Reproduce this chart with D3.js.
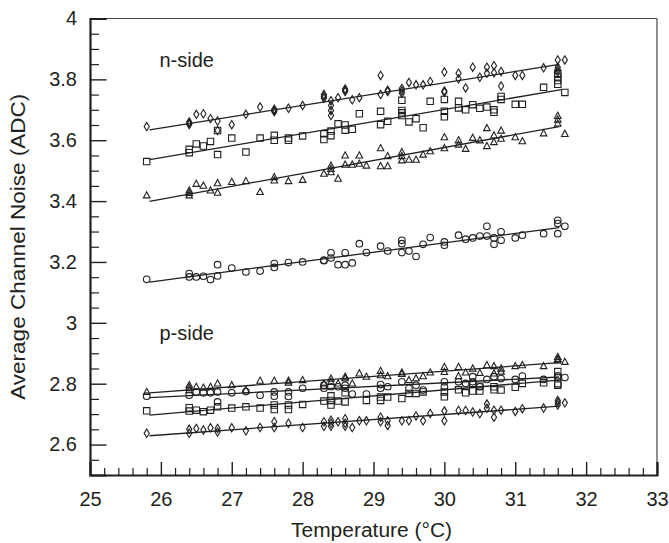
<!DOCTYPE html>
<html>
<head>
<meta charset="utf-8">
<script src="https://cdn.jsdelivr.net/npm/d3@7"></script>
<style>
  html, body { margin: 0; padding: 0; background: #fff; }
  svg { display: block; }
  text { font-family: "Liberation Sans", Arial, Helvetica, sans-serif; fill: #231f20; }
</style>
</head>
<body>
<svg id="chart" width="669" height="543"></svg>
<script>
// ---------------- data ----------------
const xTicks = [25, 26, 27, 28, 29, 30, 31, 32, 33];
const yTicks = [2.6, 2.8, 3.0, 3.2, 3.4, 3.6, 3.8, 4.0];
const yTickLabels = ["2.6", "2.8", "3", "3.2", "3.4", "3.6", "3.8", "4"];
const groupLabels = ["n-side", "p-side"];
const groupLabelPos = [[25.98, 3.84], [25.98, 2.945]];
const xTitle = "Temperature (\u00B0C)";
const yTitle = "Average Channel Noise (ADC)";

const nDiamond = [[25.8,3.645],[26.4,3.656],[26.4,3.652],[26.4,3.660],[26.5,3.685],[26.6,3.687],[26.7,3.671],[26.8,3.663],[26.8,3.632],[27.0,3.651],[27.2,3.685],[27.4,3.709],[27.6,3.698],[27.6,3.702],[27.6,3.694],[27.8,3.705],[28.0,3.714],[28.3,3.750],[28.3,3.744],[28.3,3.738],[28.4,3.730],[28.4,3.714],[28.4,3.698],[28.4,3.681],[28.5,3.740],[28.6,3.764],[28.6,3.760],[28.6,3.768],[28.7,3.733],[28.8,3.740],[29.1,3.813],[29.1,3.750],[29.2,3.764],[29.2,3.760],[29.4,3.770],[29.4,3.762],[29.4,3.754],[29.5,3.790],[29.6,3.782],[29.7,3.782],[29.8,3.793],[30.0,3.824],[30.0,3.758],[30.0,3.762],[30.2,3.820],[30.2,3.802],[30.3,3.772],[30.4,3.840],[30.5,3.807],[30.6,3.840],[30.6,3.820],[30.7,3.845],[30.7,3.822],[30.8,3.826],[30.8,3.778],[31.0,3.813],[31.1,3.813],[31.4,3.838],[31.6,3.864],[31.6,3.840],[31.6,3.832],[31.6,3.824],[31.7,3.864]];
const nSquare = [[25.8,3.530],[26.4,3.570],[26.4,3.559],[26.5,3.588],[26.6,3.581],[26.7,3.596],[26.8,3.632],[26.8,3.553],[27.0,3.607],[27.2,3.561],[27.4,3.607],[27.6,3.616],[27.6,3.600],[27.8,3.607],[27.8,3.600],[28.0,3.614],[28.3,3.621],[28.3,3.602],[28.4,3.630],[28.4,3.615],[28.5,3.654],[28.6,3.650],[28.6,3.633],[28.7,3.636],[28.8,3.687],[29.1,3.695],[29.1,3.651],[29.2,3.662],[29.4,3.731],[29.4,3.698],[29.4,3.690],[29.4,3.681],[29.5,3.660],[29.6,3.671],[29.7,3.641],[29.8,3.728],[30.0,3.734],[30.0,3.695],[30.0,3.677],[30.2,3.728],[30.2,3.706],[30.3,3.700],[30.4,3.717],[30.5,3.705],[30.6,3.709],[30.7,3.700],[30.7,3.692],[30.8,3.744],[30.8,3.734],[31.0,3.718],[31.1,3.718],[31.4,3.774],[31.6,3.820],[31.6,3.808],[31.6,3.796],[31.6,3.784],[31.7,3.757]];
const nTriangle = [[25.8,3.419],[26.4,3.435],[26.4,3.427],[26.4,3.419],[26.5,3.457],[26.6,3.451],[26.7,3.435],[26.8,3.459],[26.8,3.428],[27.0,3.463],[27.2,3.466],[27.4,3.430],[27.6,3.479],[27.6,3.468],[27.8,3.466],[28.0,3.470],[28.3,3.490],[28.4,3.517],[28.4,3.506],[28.4,3.495],[28.5,3.474],[28.6,3.550],[28.6,3.520],[28.7,3.520],[28.8,3.550],[28.8,3.523],[28.9,3.517],[29.1,3.574],[29.1,3.515],[29.2,3.548],[29.2,3.515],[29.4,3.561],[29.4,3.548],[29.4,3.534],[29.5,3.536],[29.6,3.536],[29.7,3.553],[29.8,3.564],[30.0,3.610],[30.0,3.574],[30.2,3.600],[30.2,3.586],[30.3,3.572],[30.4,3.608],[30.5,3.600],[30.6,3.640],[30.6,3.581],[30.7,3.616],[30.7,3.594],[30.8,3.632],[30.8,3.605],[31.0,3.610],[31.1,3.597],[31.4,3.623],[31.6,3.680],[31.6,3.668],[31.6,3.655],[31.7,3.621]];
const nCircle = [[25.8,3.143],[26.4,3.162],[26.4,3.151],[26.5,3.151],[26.6,3.153],[26.7,3.142],[26.8,3.191],[26.8,3.154],[27.0,3.180],[27.2,3.167],[27.4,3.170],[27.6,3.195],[27.6,3.182],[27.8,3.198],[28.0,3.200],[28.3,3.206],[28.3,3.204],[28.4,3.230],[28.4,3.213],[28.5,3.191],[28.6,3.230],[28.6,3.191],[28.7,3.197],[28.8,3.260],[28.9,3.231],[29.1,3.252],[29.2,3.236],[29.4,3.271],[29.4,3.260],[29.4,3.231],[29.5,3.236],[29.6,3.218],[29.7,3.258],[29.8,3.280],[30.0,3.266],[30.0,3.255],[30.2,3.288],[30.3,3.275],[30.4,3.279],[30.5,3.285],[30.6,3.317],[30.6,3.285],[30.7,3.279],[30.7,3.258],[30.8,3.299],[30.8,3.271],[31.0,3.279],[31.1,3.288],[31.4,3.293],[31.6,3.337],[31.6,3.326],[31.6,3.293],[31.7,3.317]];
const pTriangle = [[25.8,2.773],[26.4,2.795],[26.4,2.787],[26.4,2.779],[26.5,2.790],[26.6,2.787],[26.7,2.790],[26.8,2.801],[27.0,2.795],[27.2,2.779],[27.4,2.810],[27.6,2.810],[27.8,2.810],[27.8,2.804],[28.0,2.812],[28.3,2.801],[28.4,2.817],[28.4,2.806],[28.5,2.801],[28.6,2.823],[28.6,2.818],[28.7,2.801],[28.8,2.834],[28.9,2.823],[29.1,2.842],[29.1,2.828],[29.2,2.825],[29.4,2.837],[29.4,2.832],[29.5,2.812],[29.6,2.818],[29.7,2.825],[29.8,2.837],[30.0,2.855],[30.0,2.839],[30.2,2.855],[30.2,2.825],[30.3,2.837],[30.4,2.850],[30.5,2.836],[30.6,2.861],[30.7,2.858],[30.7,2.834],[30.8,2.850],[30.8,2.840],[31.0,2.858],[31.1,2.861],[31.4,2.858],[31.6,2.888],[31.6,2.882],[31.6,2.877],[31.7,2.872]];
const pCircle = [[25.8,2.759],[26.4,2.762],[26.5,2.773],[26.6,2.770],[26.7,2.770],[26.8,2.773],[26.8,2.740],[27.0,2.770],[27.2,2.774],[27.4,2.762],[27.6,2.773],[27.6,2.759],[27.8,2.773],[27.8,2.758],[28.0,2.785],[28.3,2.795],[28.3,2.785],[28.4,2.790],[28.5,2.790],[28.6,2.795],[28.6,2.785],[28.7,2.766],[28.9,2.766],[29.1,2.797],[29.1,2.785],[29.2,2.790],[29.4,2.806],[29.5,2.785],[29.6,2.795],[29.7,2.779],[30.0,2.806],[30.0,2.790],[30.2,2.806],[30.3,2.801],[30.4,2.823],[30.4,2.806],[30.5,2.790],[30.6,2.814],[30.7,2.823],[30.8,2.817],[31.0,2.814],[31.1,2.825],[31.4,2.814],[31.6,2.820],[31.6,2.826],[31.7,2.820]];
const pSquare = [[25.8,2.711],[26.4,2.721],[26.4,2.710],[26.5,2.713],[26.6,2.708],[26.7,2.713],[26.8,2.724],[27.0,2.720],[27.2,2.724],[27.4,2.720],[27.6,2.730],[27.6,2.715],[27.8,2.730],[27.8,2.715],[28.0,2.732],[28.3,2.743],[28.4,2.760],[28.4,2.745],[28.4,2.730],[28.5,2.743],[28.6,2.770],[28.6,2.740],[28.9,2.745],[29.1,2.756],[29.1,2.745],[29.2,2.756],[29.4,2.751],[29.5,2.768],[29.6,2.768],[29.7,2.773],[30.0,2.773],[30.0,2.757],[30.2,2.780],[30.3,2.770],[30.4,2.801],[30.4,2.776],[30.5,2.792],[30.5,2.776],[30.7,2.790],[30.7,2.780],[30.8,2.779],[31.0,2.788],[31.1,2.801],[31.4,2.803],[31.6,2.840],[31.6,2.820],[31.6,2.800],[31.6,2.795]];
const pDiamond = [[25.8,2.637],[26.4,2.650],[26.4,2.637],[26.5,2.653],[26.6,2.648],[26.7,2.655],[26.8,2.653],[26.8,2.641],[27.0,2.655],[27.2,2.645],[27.4,2.656],[27.6,2.675],[27.6,2.656],[27.8,2.670],[28.0,2.656],[28.3,2.675],[28.3,2.660],[28.4,2.680],[28.4,2.670],[28.4,2.660],[28.5,2.675],[28.6,2.685],[28.6,2.670],[28.6,2.660],[28.7,2.656],[28.8,2.678],[28.9,2.678],[29.1,2.690],[29.1,2.675],[29.2,2.678],[29.2,2.663],[29.4,2.678],[29.5,2.678],[29.6,2.694],[29.7,2.678],[29.8,2.702],[30.0,2.710],[30.0,2.678],[30.2,2.712],[30.3,2.712],[30.4,2.707],[30.5,2.702],[30.6,2.733],[30.6,2.719],[30.7,2.713],[30.7,2.690],[30.8,2.713],[31.0,2.709],[31.1,2.718],[31.4,2.720],[31.6,2.745],[31.6,2.738],[31.6,2.730],[31.7,2.737]];

// fitted lines: [T start, value start, T end, value end]
const fitLines = [
  [25.84, 3.634, 31.62, 3.849],
  [25.84, 3.536, 31.65, 3.766],
  [25.84, 3.399, 31.62, 3.645],
  [25.84, 3.134, 31.62, 3.313],
  [25.84, 2.770, 31.62, 2.869],
  [25.84, 2.754, 31.62, 2.822],
  [25.84, 2.697, 31.62, 2.812],
  [25.84, 2.629, 31.62, 2.726]
];

const seriesData = [nDiamond, nSquare, nTriangle, nCircle, pTriangle, pCircle, pSquare, pDiamond];
const seriesShape = ["diamond", "square", "triangle", "circle", "triangle", "circle", "square", "diamond"];

// ---------------- layout ----------------
const ink = "#231f20";
const svg = d3.select("#chart");
const L = 90, R = 657, T = 18.5, B = 475;
const x = d3.scaleLinear().domain([25, 33]).range([L, R]);
const y = d3.scaleLinear().domain([2.5, 4.0]).range([B, T]);

// frame (top / right thin)
svg.append("line").attr("x1", L).attr("x2", R).attr("y1", T).attr("y2", T)
  .attr("stroke", "#444").attr("stroke-width", 1.2);
svg.append("line").attr("x1", R).attr("x2", R).attr("y1", T).attr("y2", B)
  .attr("stroke", "#444").attr("stroke-width", 1.2);

// minor ticks
const xMinor = d3.range(25, 33.001, 0.2).filter(v => Math.abs(v - Math.round(v)) > 1e-6);
const yMinor = d3.range(2.55, 4.0, 0.05).filter(v => Math.abs(v * 5 - Math.round(v * 5)) > 1e-6);

const gxMinor = svg.append("g").attr("transform", `translate(0,${B})`)
  .call(d3.axisBottom(x).tickValues(xMinor).tickSize(-7).tickFormat(""));
const gyMinor = svg.append("g").attr("transform", `translate(${L},0)`)
  .call(d3.axisLeft(y).tickValues(yMinor).tickSize(-9).tickFormat(""));
[gxMinor, gyMinor].forEach(g => { g.select(".domain").remove(); g.selectAll("line").attr("stroke", ink).attr("stroke-width", 1.2); });

// major axes
const gx = svg.append("g").attr("transform", `translate(0,${B})`)
  .call(d3.axisBottom(x).tickValues(xTicks).tickSize(-13).tickPadding(16.8).tickFormat(d => String(d)));
const gy = svg.append("g").attr("transform", `translate(${L},0)`)
  .call(d3.axisLeft(y).tickValues(yTicks).tickSize(-16.5).tickPadding(13).tickFormat((d, i) => yTickLabels[i]));
[gx, gy].forEach(g => {
  g.select(".domain").attr("stroke", ink).attr("stroke-width", 2.2);
  g.selectAll(".tick line").attr("stroke", ink).attr("stroke-width", 1.4);
  g.selectAll(".tick text").attr("fill", ink).style("font-size", "20px")
    .style("font-family", '"Liberation Sans", Arial, sans-serif');
});

// fit lines
svg.append("g").selectAll("line").data(fitLines).join("line")
  .attr("x1", d => x(d[0])).attr("y1", d => y(d[1]))
  .attr("x2", d => x(d[2])).attr("y2", d => y(d[3]))
  .attr("stroke", ink).attr("stroke-width", 1.3);

// markers
function markerPath(shape) {
  if (shape === "diamond") return "M0,-4.2L2.6,0L0,4.2L-2.6,0Z";
  if (shape === "square") return "M-3.2,-3.2H3.2V3.2H-3.2Z";
  if (shape === "triangle") return "M0,-3.6L3.3,2.6H-3.3Z";
  return null;
}
seriesData.forEach((pts, i) => {
  const shape = seriesShape[i];
  const g = svg.append("g").attr("fill", "none").attr("stroke", ink).attr("stroke-width", 1.1);
  if (shape === "circle") {
    g.selectAll("circle").data(pts).join("circle")
      .attr("cx", d => x(d[0])).attr("cy", d => y(d[1])).attr("r", 3.3);
  } else {
    g.selectAll("path").data(pts).join("path")
      .attr("d", markerPath(shape))
      .attr("transform", d => `translate(${x(d[0])},${y(d[1])})`);
  }
});

// group labels
svg.append("g").selectAll("text").data(groupLabels).join("text")
  .attr("x", (d, i) => x(groupLabelPos[i][0]))
  .attr("y", (d, i) => y(groupLabelPos[i][1]))
  .style("font-size", "20px")
  .text(d => d);

// axis titles
svg.append("text").attr("x", (L + R) / 2 - 2).attr("y", 537)
  .attr("text-anchor", "middle").style("font-size", "20px")
  .attr("textLength", 161).attr("lengthAdjust", "spacingAndGlyphs").text(xTitle);
svg.append("text").attr("transform", `translate(25,${(T + B) / 2}) rotate(-90)`)
  .attr("text-anchor", "middle").style("font-size", "19.5px")
  .attr("textLength", 306).attr("lengthAdjust", "spacingAndGlyphs").text(yTitle);
</script>
</body>
</html>
